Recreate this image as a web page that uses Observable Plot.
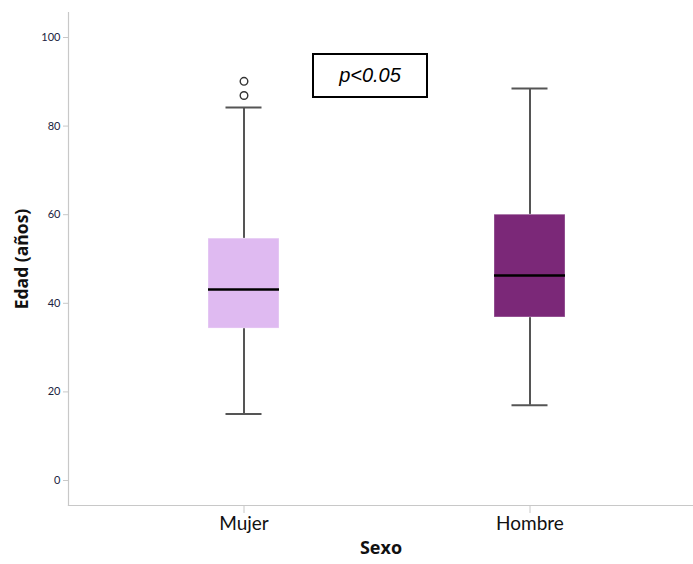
<!DOCTYPE html>
<html>
<head>
<meta charset="utf-8">
<script src="https://cdn.jsdelivr.net/npm/d3@7"></script>
<script src="https://cdn.jsdelivr.net/npm/@observablehq/plot@0.6"></script>
<style>
  html, body { margin: 0; padding: 0; background: #fff; }
  #wrap { position: relative; width: 693px; height: 564px; }
  #pbox {
    position: absolute; left: 312px; top: 53px; width: 112px; height: 41px;
    border: 2px solid #000; box-sizing: content-box;
    font-family: "Liberation Sans", Arial, sans-serif; font-style: italic;
    font-size: 20px; color: #000; display: flex; align-items: center; justify-content: center;
  }
</style>
</head>
<body>
<div id="wrap"><div id="pbox">p&lt;0.05</div></div>
<script>
// Age by sex: box-plot summary values (years)
const sexo = ["Mujer", "Hombre"];
const whiskerLow = [15, 17];
const q1 = [34.3, 36.8];
const median = [43.1, 46.3];
const q3 = [54.6, 60];
const whiskerHigh = [84.2, 88.5];
const colors = ["#dfbaf1", "#7b2878"];
const outlierSexo = ["Mujer", "Mujer"];
const outlierEdad = [90.1, 86.9];
const yTicks = [0, 20, 40, 60, 80, 100];

const boxes = sexo.map((s, i) => ({
  sexo: s, lo: whiskerLow[i], q1: q1[i], med: median[i], q3: q3[i], hi: whiskerHigh[i], color: colors[i]
}));
const outliers = outlierSexo.map((s, i) => ({sexo: s, edad: outlierEdad[i]}));

const capInset = 17.5;
const font = "Lato, 'Open Sans', sans-serif";
const titleFont = "'Open Sans', Lato, sans-serif";

const chart = Plot.plot({
  width: 693,
  height: 564,
  marginLeft: 68,
  marginRight: 0,
  marginTop: 12,
  marginBottom: 59,
  style: {fontFamily: font, background: "#fff"},
  x: {
    domain: sexo, type: "band", paddingInner: 0.753, paddingOuter: 0.466, align: 0.522,
    label: null, axis: null
  },
  y: {domain: [-5.64, 105.64], label: null, axis: null},
  marks: [
    // axis lines (left and bottom only)
    Plot.frame({anchor: "left", stroke: "#c8c8c8", strokeWidth: 1.2}),
    Plot.frame({anchor: "bottom", stroke: "#c8c8c8", strokeWidth: 1.2}),
    // y axis
    Plot.axisY(yTicks, {
      tickSize: 5, tickPadding: 3, stroke: "#c8c8c8", fill: "#1a2340",
      fontSize: 11, label: null
    }),
    Plot.text(["Edad (años)"], {
      frameAnchor: "left", dx: -46, rotate: -90, textAnchor: "middle",
      fontWeight: "bold", fontSize: 17.5, fill: "#111", fontFamily: titleFont
    }),
    // x axis
    Plot.axisX(sexo, {
      tickSize: 8, tickPadding: 3, stroke: "#c8c8c8", fill: "#111",
      fontSize: 19, label: null
    }),
    Plot.text(["Sexo"], {
      frameAnchor: "bottom", dy: 48, fontWeight: "bold", fontSize: 18, fill: "#111",
      fontFamily: titleFont
    }),
    // whiskers
    Plot.ruleX(boxes, {x: "sexo", y1: "lo", y2: "q1", stroke: "#555", strokeWidth: 2}),
    Plot.ruleX(boxes, {x: "sexo", y1: "q3", y2: "hi", stroke: "#555", strokeWidth: 2}),
    Plot.tickY(boxes, {x: "sexo", y: "lo", stroke: "#555", strokeWidth: 2, insetLeft: capInset, insetRight: capInset}),
    Plot.tickY(boxes, {x: "sexo", y: "hi", stroke: "#555", strokeWidth: 2, insetLeft: capInset, insetRight: capInset}),
    // boxes
    Plot.barY(boxes, {x: "sexo", y1: "q1", y2: "q3", fill: "color", stroke: "#ffffff", strokeOpacity: 0.35, strokeWidth: 1}),
    // medians
    Plot.tickY(boxes, {x: "sexo", y: "med", stroke: "#000", strokeWidth: 2.5}),
    // outliers
    Plot.dot(outliers, {x: "sexo", y: "edad", r: 3.8, stroke: "#333", strokeWidth: 1.4, fill: "#fff"})
  ]
});

document.getElementById("wrap").prepend(chart);
</script>
</body>
</html>
